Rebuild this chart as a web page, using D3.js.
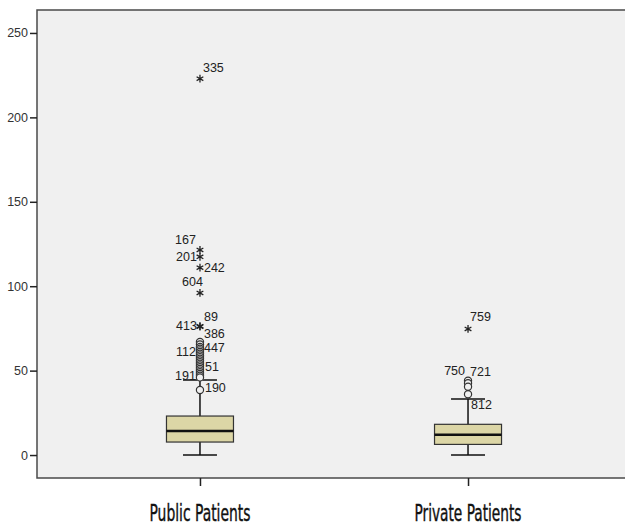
<!DOCTYPE html>
<html lang="en">
<head>
<meta charset="UTF-8">
<title>Boxplot</title>
<script src="https://cdn.jsdelivr.net/npm/d3@7"></script>
<style>
  body { margin: 0; background: #fff; }
  .tick text { font-family: "Liberation Sans", Arial, sans-serif; font-size: 12.5px; fill: #333; }
  .olabel { font-family: "Liberation Sans", Arial, sans-serif; font-size: 12.5px; fill: #222; }
  .xlab { font-family: "Liberation Sans Narrow", "DejaVu Sans Condensed", sans-serif; font-size: 23px; fill: #111; stroke: #111; stroke-width: 0.4px; }
</style>
</head>
<body>
<svg width="625" height="528"></svg>
<script>
// groups and box statistics
var groups = ["Public Patients", "Private Patients"];
var lowWhisker = [0, 0];
var q1 = [7.7, 6.3];
var median = [14.2, 12.0];
var q3 = [23.1, 18.2];
var highWhisker = [44.5, 33.2];

// outliers (circles) and extremes (stars)
var publicCircles = [67, 65.5, 64, 63, 62, 61, 60, 59, 58, 57, 56, 55, 54, 53, 52, 51, 50, 49, 48, 47, 46, 38.5];
var privateCircles = [44, 42.5, 40.5, 36];
var publicStars = [222.9, 121.5, 117.4, 111, 96, 76, 76.3];
var privateStars = [74.7];

// case labels: [group, value, id]
var caseLabels = [
  [0, 222.9, "335"], [0, 121.5, "167"], [0, 117.4, "201"], [0, 111, "242"],
  [0, 96, "604"], [0, 76, "89"], [0, 76.3, "413"], [0, 67, "386"],
  [0, 62, "447"], [0, 61, "112"], [0, 52, "51"], [0, 47, "191"], [0, 38.5, "190"],
  [1, 74.7, "759"], [1, 44, "750"], [1, 44, "721"], [1, 36, "812"]
];
var yTicks = [0, 50, 100, 150, 200, 250];

// label placement relative to the point: dx, dy, anchor
var labelPlace = {
  "335": [3, -7, "start"], "167": [-4, -6, "end"], "201": [-3, 4, "end"], "242": [4, 4, "start"],
  "604": [3, -7, "end"], "89": [4, -6, "start"], "413": [-3, 4, "end"], "386": [4, -4, "start"],
  "447": [4, 2, "start"], "112": [-4, 4, "end"], "51": [5, 4, "start"], "191": [-4, 4, "end"],
  "190": [5, 2, "start"], "759": [2, -8, "start"], "750": [-3, -6, "end"], "721": [2, -5, "start"],
  "812": [3, 15, "start"]
};

var svg = d3.select("svg");
var mLeft = 37, mTop = 10, mRight = 631, mBottom = 478;

var x = d3.scalePoint().domain(groups).range([mLeft, mRight]).padding(0.608);
var y = d3.scaleLinear().domain([-13.6, 263.6]).range([mBottom, mTop]);
var boxW = 67, capW = 34;

svg.append("rect")
  .attr("x", mLeft).attr("y", mTop)
  .attr("width", mRight - mLeft).attr("height", mBottom - mTop)
  .attr("fill", "#f0f0f0")
  .attr("stroke", "#4a4a4a").attr("stroke-width", 1.5);

var yAxis = svg.append("g")
  .attr("transform", "translate(" + mLeft + ",0)")
  .call(d3.axisLeft(y).tickValues(yTicks).tickSize(7).tickPadding(2));
yAxis.select(".domain").remove();
yAxis.selectAll("line").attr("stroke", "#222").attr("stroke-width", 1.5);

var xAxis = svg.append("g")
  .attr("transform", "translate(0," + mBottom + ")")
  .call(d3.axisBottom(x).tickSize(8).tickFormat(""));
xAxis.select(".domain").remove();
xAxis.selectAll("line").attr("stroke", "#222").attr("stroke-width", 1.5);

svg.selectAll(".xlab")
  .data(groups)
  .enter().append("text")
  .attr("class", "xlab")
  .attr("x", function(d) { return x(d); })
  .attr("y", 521)
  .attr("text-anchor", "middle")
  .attr("textLength", function(d, i) { return i == 0 ? 101 : 107; })
  .attr("lengthAdjust", "spacingAndGlyphs")
  .text(function(d) { return d; });

var g = svg.append("g");

groups.forEach(function(grp, i) {
  var cx = x(grp);
  // whisker stem
  g.append("line")
    .attr("x1", cx).attr("x2", cx)
    .attr("y1", y(lowWhisker[i])).attr("y2", y(highWhisker[i]))
    .attr("stroke", "#111").attr("stroke-width", 1.5);
  [lowWhisker[i], highWhisker[i]].forEach(function(v) {
    g.append("line")
      .attr("x1", cx - capW / 2).attr("x2", cx + capW / 2)
      .attr("y1", y(v)).attr("y2", y(v))
      .attr("stroke", "#111").attr("stroke-width", 1.5);
  });
  g.append("rect")
    .attr("x", cx - boxW / 2).attr("width", boxW)
    .attr("y", y(q3[i])).attr("height", y(q1[i]) - y(q3[i]))
    .attr("fill", "#dcd6a6")
    .attr("stroke", "#333").attr("stroke-width", 1.2);
  g.append("line")
    .attr("x1", cx - boxW / 2).attr("x2", cx + boxW / 2)
    .attr("y1", y(median[i])).attr("y2", y(median[i]))
    .attr("stroke", "#111").attr("stroke-width", 2.5);
});

var circles = publicCircles.map(function(v) { return [0, v]; })
  .concat(privateCircles.map(function(v) { return [1, v]; }));
g.selectAll(".out")
  .data(circles)
  .enter().append("circle")
  .attr("class", "out")
  .attr("cx", function(d) { return x(groups[d[0]]); })
  .attr("cy", function(d) { return y(d[1]); })
  .attr("r", 3.6)
  .attr("fill", "#f0f0f0")
  .attr("stroke", "#333").attr("stroke-width", 1.2);

var stars = publicStars.map(function(v) { return [0, v]; })
  .concat(privateStars.map(function(v) { return [1, v]; }));
var star = d3.symbol().type(d3.symbolAsterisk).size(42);
g.selectAll(".ext")
  .data(stars)
  .enter().append("path")
  .attr("class", "ext")
  .attr("d", star)
  .attr("transform", function(d) { return "translate(" + x(groups[d[0]]) + "," + y(d[1]) + ")"; })
  .attr("stroke", "#222").attr("stroke-width", 1.3).attr("fill", "none");

g.selectAll(".olabel")
  .data(caseLabels)
  .enter().append("text")
  .attr("class", "olabel")
  .attr("x", function(d) { return x(groups[d[0]]) + labelPlace[d[2]][0]; })
  .attr("y", function(d) { return y(d[1]) + labelPlace[d[2]][1]; })
  .attr("text-anchor", function(d) { return labelPlace[d[2]][2]; })
  .text(function(d) { return d[2]; });
</script>
</body>
</html>
